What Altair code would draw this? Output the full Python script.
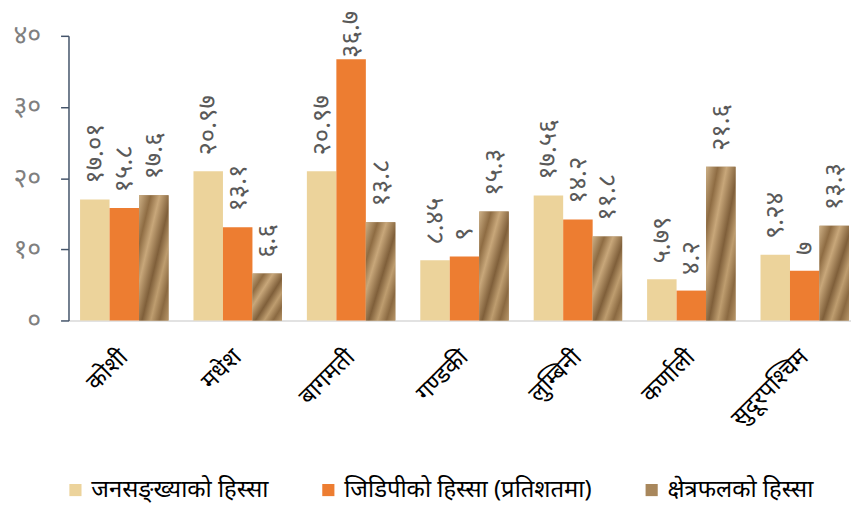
import altair as alt
import pandas as pd

provinces = ["कोशी", "मधेश", "बागमती", "गण्डकी", "लुम्बिनी", "कर्णाली", "सुदूरपश्चिम"]
series_names = ["जनसङ्ख्याको हिस्सा", "जिडिपीको हिस्सा (प्रतिशतमा)", "क्षेत्रफलको हिस्सा"]
population = [17.01, 20.97, 20.97, 8.45, 17.56, 5.79, 9.24]
gdp = [15.8, 13.1, 36.7, 9.0, 14.2, 4.2, 7.0]
area = [17.6, 6.6, 13.8, 15.3, 11.8, 21.6, 13.3]
colors = ["#ECD39B", "#ED7D31", "#A8875C"]

DEV = str.maketrans("0123456789", "०१२३४५६७८९")

rows = []
for vals, s in zip([population, gdp, area], series_names):
    for p, v in zip(provinces, vals):
        rows.append({"province": p, "series": s, "value": v,
                     "label": f"{v:g}".translate(DEV)})
df = pd.DataFrame(rows)

FONT = "Noto Sans"

x = alt.X("province:N", sort=provinces, title=None,
          scale=alt.Scale(paddingInner=0.22, paddingOuter=0.06, align=0.85),
          axis=alt.Axis(labelAngle=315, labelAlign="right", labelBaseline="middle",
                        labelFontSize=24, labelColor="#000000", labelPadding=33,
                        ticks=False, domainColor="#D9D9D9", domainWidth=1.5,
                        labelFont=FONT))
xo = alt.XOffset("series:N", sort=series_names)
y = alt.Y("value:Q", title=None,
          scale=alt.Scale(domain=[0, 40]),
          axis=alt.Axis(values=[0, 10, 20, 30, 40], grid=False,
                        domainColor="#44546A", domainWidth=1.5,
                        tickColor="#44546A", tickWidth=1.5, tickSize=8,
                        labelFontSize=27, labelColor="#7F7F7F", labelPadding=20,
                        labelFont=FONT,
                        labelExpr="replace(replace(replace(replace(replace(datum.label,'0','०'),'1','१'),'2','२'),'3','३'),'4','४')"))

bars = alt.Chart(df).mark_bar().encode(
    x=x, xOffset=xo, y=y,
    color=alt.Color("series:N", sort=series_names,
                    scale=alt.Scale(domain=series_names, range=colors),
                    legend=alt.Legend(title=None, orient="none", direction="horizontal",
                                      legendX=-5, legendY=446,
                                      symbolType="square", symbolSize=150,
                                      symbolStrokeWidth=0, labelFontSize=24,
                                      labelColor="#000000", labelFont=FONT,
                                      columnPadding=48, labelLimit=500)),
)

tex = alt.Chart(df).transform_filter(
    alt.datum.series == series_names[2]
).mark_bar(fill={"gradient": "linear", "x1": 0, "y1": 0, "x2": 1, "y2": 1,
                 "stops": [{"offset": 0, "color": "#CDB086"},
                           {"offset": 0.2, "color": "#8E6C43"},
                           {"offset": 0.35, "color": "#C8A77A"},
                           {"offset": 0.55, "color": "#7F5F3A"},
                           {"offset": 0.7, "color": "#BE9D6F"},
                           {"offset": 0.85, "color": "#8A6941"},
                           {"offset": 1, "color": "#B89668"}]}).encode(
    x=x, xOffset=xo, y=y)

labels = alt.Chart(df).transform_calculate(
    label_pos="min(datum.value + 2.2, 36.9)"
).mark_text(angle=270, align="left", baseline="middle",
            fontSize=26, color="#595959", font=FONT).encode(
    x=x, xOffset=xo, y=alt.Y("label_pos:Q"), text="label:N")

chart = alt.layer(bars, tex, labels).properties(
    width=789, height=287,
    padding={"left": 4, "top": 0, "right": 0, "bottom": 0},
).configure_view(stroke=None)

chart.save("out.html", embed_options={"renderer": "svg", "actions": False})
